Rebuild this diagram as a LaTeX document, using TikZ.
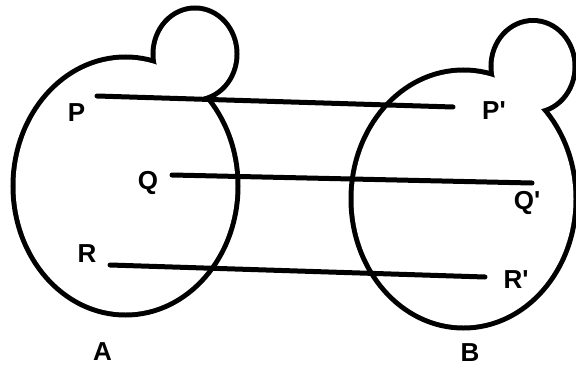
\documentclass[tikz,border=0pt]{standalone}
\usepackage{fontspec}
\setmainfont{Liberation Sans}

\begin{document}
\begin{tikzpicture}[
    x=1pt,y=-1pt,
    lbl/.style={font=\bfseries\fontsize{26}{26}\selectfont,inner sep=0pt},
    link/.style={line width=5pt,line cap=round},
    rim/.style={line width=10pt},   % outer half stays visible
  ]
  \def\Rx{110}    % big ellipse
  \def\Ry{126.5}
  \def\rx{39.5}   % small bump
  \def\ry{43.5}
  \useasboundingbox (0,0) rectangle (576,372);

  % ---------- the two sets: ellipse with a bump, outline of the union ----------
  \foreach \cx/\cy/\bx/\by in {125.5/186/195/54, 463.5/199/533/66.5}
    {\draw[rim] (\cx,\cy) ellipse [x radius=\Rx,y radius=\Ry];
     \draw[rim] (\bx,\by) ellipse [x radius=\rx,y radius=\ry];
     \fill[white] (\cx,\cy) ellipse [x radius=\Rx,y radius=\Ry];
     \fill[white] (\bx,\by) ellipse [x radius=\rx,y radius=\ry];}

  % ---------- labels ----------
  \node[lbl] (P)  at (76.5,113) {P};
  \node[lbl] (Q)  at (148,183)  {Q};
  \node[lbl] (R)  at (87,254)   {R};
  \node[lbl] (Pp) at (494,111)  {P\textquotesingle};
  \node[lbl] (Qp) at (527,203)  {Q\textquotesingle};
  \node[lbl] (Rp) at (516,280)  {R\textquotesingle};
  \node[lbl] (A)  at (102.5,352) {A};
  \node[lbl] (B)  at (470,353)  {B};

  % ---------- mapping ----------
  \coordinate (p0) at (97,96);   \coordinate (p1) at (453,107);
  \coordinate (q0) at (172,175); \coordinate (q1) at (532,183);
  \coordinate (r0) at (110,265); \coordinate (r1) at (485,277);
  \draw[link] (p0) -- (p1);
  \draw[link] (q0) -- (q1);
  \draw[link] (r0) -- (r1);
\end{tikzpicture}
\end{document}
